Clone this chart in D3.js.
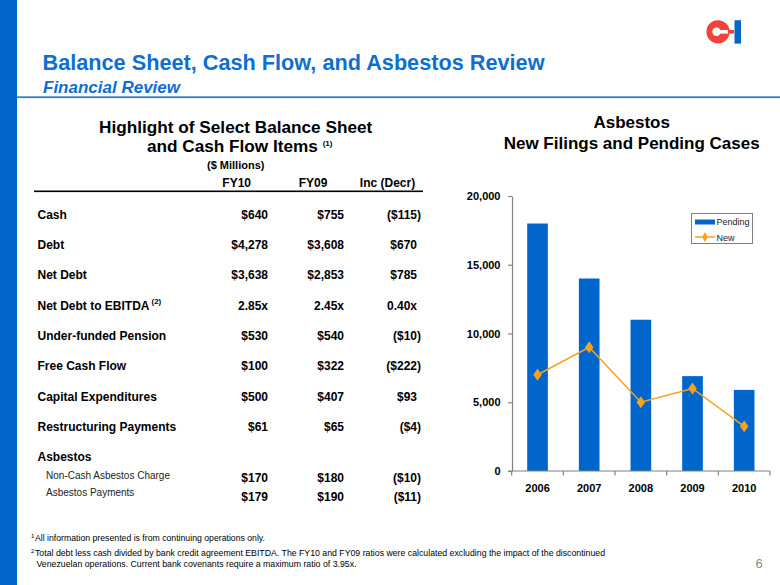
<!DOCTYPE html>
<html><head><meta charset="utf-8">
<script src="https://cdn.jsdelivr.net/npm/d3@7"></script>
<style>
html,body{margin:0;padding:0;background:#fff;}
svg{display:block;font-family:"Liberation Sans",Arial,Helvetica,sans-serif;}
</style></head>
<body>
<svg id="c" width="780" height="585"></svg>
<script>
// ---- data ----
const years = ["2006","2007","2008","2009","2010"];
const pending = [18000, 14000, 11000, 6900, 5900];
const newFilings = [7000, 9000, 5000, 6000, 3250];
const yTicks = [0, 5000, 10000, 15000, 20000];

const rowLabels = ["Cash","Debt","Net Debt","Net Debt to EBITDA","Under-funded Pension","Free Cash Flow","Capital Expenditures","Restructuring Payments"];
const fy10 = ["$640","$4,278","$3,638","2.85x","$530","$100","$500","$61"];
const fy09 = ["$755","$3,608","$2,853","2.45x","$540","$322","$407","$65"];
const incDecr = ["($115)","$670","$785","0.40x","($10)","($222)","$93","($4)"];
const subLabels = ["Non-Cash Asbestos Charge","Asbestos Payments"];
const subFy10 = ["$170","$179"];
const subFy09 = ["$180","$190"];
const subInc = ["($10)","($11)"];
const colHeaders = ["FY10","FY09","Inc (Decr)"];

const BLUE = "#0066CC";
const ORANGE = "#F5A21E";
const svg = d3.select("#c");

// ---- slide frame ----
svg.append("rect").attr("x",0).attr("y",0).attr("width",17).attr("height",585).attr("fill",BLUE);
svg.append("rect").attr("x",17).attr("y",96.3).attr("width",763).attr("height",1.8).attr("fill","#2f7fd0");
svg.append("text").attr("x",42.5).attr("y",69.5).attr("font-size",21.5).attr("font-weight","bold")
  .attr("textLength",502).attr("lengthAdjust","spacingAndGlyphs")
  .attr("fill","#0D6FCF").text("Balance Sheet, Cash Flow, and Asbestos Review");
svg.append("text").attr("x",43).attr("y",92.7).attr("font-size",17).attr("font-weight","bold")
  .attr("font-style","italic").attr("fill","#0D6FCF").text("Financial Review");

// logo
const logo = svg.append("g");
logo.append("circle").attr("cx",718).attr("cy",31.8).attr("r",11.6).attr("fill","#F2413A");
logo.append("circle").attr("cx",716.5).attr("cy",31.8).attr("r",4.2).attr("fill","#fff");
logo.append("rect").attr("x",720).attr("y",30).attr("width",14).attr("height",3.6).attr("fill","#fff");
logo.append("rect").attr("x",728).attr("y",30).attr("width",6).attr("height",3.6).attr("fill","#F2413A");
logo.append("rect").attr("x",734.5).attr("y",20.2).attr("width",6.5).attr("height",23.4).attr("fill",BLUE);

// page number
svg.append("text").attr("x",759).attr("y",568).attr("text-anchor","middle").attr("font-size",13)
  .attr("fill","#8a8a8a").text("6");

// ---- table ----
const tcx = 235.7;
svg.append("text").attr("x",tcx).attr("y",132.7).attr("text-anchor","middle").attr("font-size",17.2)
  .attr("font-weight","bold").text("Highlight of Select Balance Sheet");
const t2 = svg.append("text").attr("x",tcx+4).attr("y",152.3).attr("text-anchor","middle").attr("font-size",17.2)
  .attr("font-weight","bold");
t2.append("tspan").text("and Cash Flow Items ");
t2.append("tspan").attr("font-size",8).attr("dy",-6).text("(1)");
svg.append("text").attr("x",tcx).attr("y",169.3).attr("text-anchor","middle").attr("font-size",11)
  .attr("font-weight","bold").text("($ Millions)");

const colCenters = [236.7, 313, 387.5];
svg.selectAll("text.hdr").data(colHeaders).join("text").attr("class","hdr")
  .attr("x",(d,i)=>colCenters[i]).attr("y",187.3).attr("text-anchor","middle")
  .attr("font-size",12).attr("font-weight","bold").text(d=>d);
svg.append("rect").attr("x",34).attr("y",190.5).attr("width",389).attr("height",1.6).attr("fill","#000");

const rowY = i => 218.7 + i*30.3;
const valX = (col, v) => col===0 ? 268 : col===1 ? 344 : (v.endsWith(")") ? 421 : 417);

rowLabels.forEach((lab,i)=>{
  const t = svg.append("text").attr("x",37.5).attr("y",rowY(i)).attr("font-size",12).attr("font-weight","bold");
  t.append("tspan").text(lab);
  if (lab === "Net Debt to EBITDA") t.append("tspan").attr("font-size",8).attr("dy",-6).attr("dx",2).text("(2)");
  [fy10[i], fy09[i], incDecr[i]].forEach((v,c)=>{
    svg.append("text").attr("x",valX(c,v)).attr("y",rowY(i)).attr("text-anchor","end")
      .attr("font-size",12).attr("font-weight","bold").text(v);
  });
});
svg.append("text").attr("x",37.5).attr("y",461).attr("font-size",12).attr("font-weight","bold").text("Asbestos");
const subLabY = [479.3, 496];
const subValY = [481.7, 501];
subLabels.forEach((lab,i)=>{
  svg.append("text").attr("x",46).attr("y",subLabY[i]).attr("font-size",10).attr("fill","#222").text(lab);
  [subFy10[i], subFy09[i], subInc[i]].forEach((v,c)=>{
    svg.append("text").attr("x",valX(c,v)).attr("y",subValY[i]).attr("text-anchor","end")
      .attr("font-size",12).attr("font-weight","bold").text(v);
  });
});

// footnotes
const fn = [
  {sup:"1", y:540.5, text:"All information presented is from continuing operations only.", w:230},
  {sup:"2", y:555.5, text:"Total debt less cash divided by bank credit agreement EBITDA. The FY10 and FY09 ratios were calculated excluding the impact of the discontinued", w:570},
  {sup:"",  y:566.5, text:"Venezuelan operations. Current bank covenants require a maximum ratio of 3.95x.", w:320}
];
fn.forEach(f=>{
  if (f.sup) svg.append("text").attr("x",31).attr("y",f.y-3).attr("font-size",6).text(f.sup);
  svg.append("text").attr("x",f.sup?35:36.5).attr("y",f.y).attr("font-size",9)
    .attr("textLength",f.w).attr("lengthAdjust","spacingAndGlyphs").text(f.text);
});

// ---- chart ----
const ccx = 631.7;
svg.append("text").attr("x",ccx).attr("y",128.3).attr("text-anchor","middle").attr("font-size",17)
  .attr("font-weight","bold").text("Asbestos");
svg.append("text").attr("x",ccx).attr("y",149.3).attr("text-anchor","middle").attr("font-size",17)
  .attr("font-weight","bold").text("New Filings and Pending Cases");

const x = d3.scaleBand().domain(years).range([511.7, 770]).paddingInner(0.6).paddingOuter(0.3);
const y = d3.scaleLinear().domain([0, 20000]).range([471, 196]);
const AX = "#808080";

// bars
svg.selectAll("rect.bar").data(years).join("rect").attr("class","bar")
  .attr("x",d=>x(d)).attr("width",x.bandwidth())
  .attr("y",(d,i)=>y(pending[i])).attr("height",(d,i)=>y(0)-y(pending[i]))
  .attr("fill",BLUE);

// y axis
const yAxis = svg.append("g").attr("transform","translate(512,0)")
  .call(d3.axisLeft(y).tickValues(yTicks).tickFormat(d3.format(",")).tickSize(4).tickSizeOuter(0));
yAxis.select(".domain").attr("stroke",AX).attr("stroke-width",1.2);
yAxis.selectAll(".tick line").attr("stroke",AX).attr("stroke-width",1.2);
yAxis.selectAll(".tick text").attr("x",-11.5).attr("font-size",11).attr("font-weight","bold")
  .attr("fill","#000").attr("font-family","Liberation Sans, Arial, sans-serif");

// x axis
const xa = svg.append("g");
xa.append("line").attr("x1",508).attr("x2",770).attr("y1",y(0)).attr("y2",y(0)).attr("stroke",AX).attr("stroke-width",1.2);
const step = x.step();
const edges = years.map(d=>x(d)-x.paddingInner()*step/2).concat([x(years[4])+x.bandwidth()+x.paddingInner()*step/2]);
xa.selectAll("line.xt").data(edges).join("line").attr("class","xt")
  .attr("x1",d=>d).attr("x2",d=>d).attr("y1",y(0)).attr("y2",y(0)+4.5).attr("stroke",AX).attr("stroke-width",1.2);
xa.selectAll("text.xl").data(years).join("text").attr("class","xl")
  .attr("x",d=>x(d)+x.bandwidth()/2).attr("y",491.7).attr("text-anchor","middle")
  .attr("font-size",11).attr("font-weight","bold").text(d=>d);

// line
const line = d3.line().x((d,i)=>x(years[i])+x.bandwidth()/2).y(d=>y(d));
svg.append("path").datum(newFilings).attr("d",line).attr("fill","none").attr("stroke",ORANGE).attr("stroke-width",1.5);
const diamond = d3.symbol().type(d3.symbolDiamond).size(40);
svg.selectAll("path.mk").data(newFilings).join("path").attr("class","mk")
  .attr("transform",(d,i)=>`translate(${x(years[i])+x.bandwidth()/2},${y(d)}) scale(1.25,1)`)
  .attr("d",diamond).attr("fill",ORANGE);

// legend
const lg = svg.append("g");
lg.append("rect").attr("x",691.5).attr("y",213.5).attr("width",61).attr("height",30)
  .attr("fill","#fff").attr("stroke",AX).attr("stroke-width",1);
lg.append("rect").attr("x",695).attr("y",219.5).attr("width",20).attr("height",5).attr("fill",BLUE);
lg.append("text").attr("x",716.5).attr("y",225.3).attr("font-size",9).attr("fill","#222").text("Pending");
lg.append("line").attr("x1",695).attr("x2",715).attr("y1",237).attr("y2",237).attr("stroke",ORANGE).attr("stroke-width",1.5);
lg.append("path").attr("transform","translate(705,237)").attr("d",d3.symbol().type(d3.symbolDiamond).size(28)).attr("fill",ORANGE);
lg.append("text").attr("x",716.5).attr("y",240.5).attr("font-size",9).attr("fill","#222").text("New");
</script>
</body></html>
